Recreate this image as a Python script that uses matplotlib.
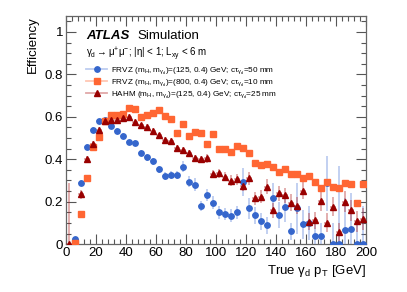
import numpy as np
import matplotlib
matplotlib.use("Agg")
import matplotlib.pyplot as plt
from matplotlib.ticker import MultipleLocator
from matplotlib.lines import Line2D

plt.rcParams['font.family'] = ['Liberation Sans', 'DejaVu Sans']
plt.rcParams['mathtext.fontset'] = 'custom'
plt.rcParams['mathtext.rm'] = 'Liberation Sans'
plt.rcParams['mathtext.it'] = 'Liberation Sans:italic'

# bin centres, 4 GeV bins
pt = np.arange(2, 200, 4)

# FRVZ (125, 0.4) GeV, ctau = 50 mm
eff_frvz125 = [np.nan, 0.022, 0.29, 0.46, 0.54, 0.58, 0.585, 0.557, 0.535, 0.51,
               0.48, 0.478, 0.43, 0.409, 0.39, 0.352, 0.322, 0.325, 0.325, 0.365,
               0.294, 0.28, 0.18, 0.231, 0.195, 0.15, 0.142, 0.134, 0.15, 0.294,
               0.168, 0.137, 0.108, 0.09, 0.216, 0.137, 0.173, 0.061, 0.168, 0.093,
               0.1, 0.038, 0.038, 0.286, 0.0, 0.0, 0.066, 0.071, 0.0, 0.0]
err_frvz125 = [0, 0.01, 0.012, 0.012, 0.012, 0.012, 0.012, 0.012, 0.012, 0.012,
               0.012, 0.012, 0.015, 0.015, 0.015, 0.018, 0.02, 0.02, 0.02, 0.025,
               0.025, 0.03, 0.025, 0.03, 0.03, 0.03, 0.03, 0.03, 0.03, 0.065,
               0.05, 0.04, 0.04, 0.04, 0.07, 0.06, 0.07, 0.04, 0.12, 0.07,
               0.08, 0.06, 0.06, 0.13, 0.1, 0.37, 0.15, 0.17, 0.1, 0.18]

# FRVZ (800, 0.4) GeV, ctau = 10 mm
eff_frvz800 = [np.nan, 0.003, 0.14, 0.31, 0.46, 0.506, 0.58, 0.608, 0.608, 0.613,
               0.64, 0.637, 0.60, 0.608, 0.616, 0.632, 0.605, 0.588, 0.522, 0.565,
               0.51, 0.53, 0.522, 0.47, 0.517, 0.448, 0.448, 0.435, 0.462, 0.451,
               0.43, 0.38, 0.373, 0.376, 0.365, 0.338, 0.352, 0.33, 0.33, 0.313,
               0.322, 0.291, 0.266, 0.291, 0.267, 0.263, 0.286, 0.283, 0.195, 0.283]
err_frvz800 = [0, 0.005, 0.01, 0.01, 0.01, 0.01, 0.01, 0.01, 0.01, 0.01,
               0.01, 0.01, 0.01, 0.01, 0.01, 0.01, 0.01, 0.01, 0.01, 0.01,
               0.012, 0.012, 0.012, 0.012, 0.012, 0.012, 0.012, 0.012, 0.012, 0.012,
               0.012, 0.012, 0.012, 0.012, 0.012, 0.012, 0.012, 0.014, 0.014, 0.014,
               0.014, 0.015, 0.015, 0.015, 0.015, 0.015, 0.015, 0.015, 0.015, 0.015]

# HAHM (125, 0.4) GeV, ctau = 25 mm
eff_hahm = [0.0, np.nan, 0.235, 0.40, 0.47, 0.54, 0.58, 0.585, 0.585, 0.593,
            0.60, 0.577, 0.561, 0.553, 0.533, 0.514, 0.49, 0.487, 0.451, 0.443,
            0.43, 0.404, 0.40, 0.404, 0.33, 0.333, 0.318, 0.299, 0.305, 0.275,
            0.31, 0.216, 0.223, 0.27, 0.16, 0.239, 0.231, 0.195, 0.181, 0.251,
            0.105, 0.113, 0.203, 0.1, 0.176, 0.055, 0.2, 0.16, 0.108, 0.118]
err_hahm = [0.29, 0, 0.02, 0.015, 0.015, 0.012, 0.012, 0.012, 0.012, 0.012,
            0.012, 0.012, 0.012, 0.012, 0.012, 0.012, 0.015, 0.015, 0.015, 0.015,
            0.015, 0.015, 0.015, 0.02, 0.02, 0.02, 0.02, 0.025, 0.025, 0.025,
            0.03, 0.03, 0.03, 0.035, 0.035, 0.035, 0.035, 0.04, 0.04, 0.04,
            0.04, 0.04, 0.045, 0.045, 0.045, 0.045, 0.05, 0.05, 0.05, 0.05]

labels = [r"FRVZ (m$_{\mathregular{H}}$, m$_{\mathregular{\gamma_d}}$)=(125, 0.4) GeV; c$\mathregular{\tau_{\gamma_d}}$=50 mm",
          r"FRVZ (m$_{\mathregular{H}}$, m$_{\mathregular{\gamma_d}}$)=(800, 0.4) GeV; c$\mathregular{\tau_{\gamma_d}}$=10 mm",
          r"HAHM (m$_{\mathregular{H}}$, m$_{\mathregular{\gamma_d}}$)=(125, 0.4) GeV; c$\mathregular{\tau_{\gamma_d}}$=25 mm"]

fig = plt.figure(figsize=(4.07, 2.92), dpi=100)
ax = fig.add_axes([0.162, 0.164, 0.737, 0.781])

styles = [
    (eff_frvz125, err_frvz125, 'o', '#3566cc', (0.35, 0.5, 0.85, 0.4), 3.9),
    (eff_frvz800, err_frvz800, 's', '#ff6633', (1.0, 0.45, 0.25, 0.4), 3.9),
    (eff_hahm, err_hahm, '^', '#990000', (0.7, 0.15, 0.15, 0.4), 4.2),
]
handles = []
for y, e, m, c, ec, ms in styles:
    ax.errorbar(pt, y, yerr=e, xerr=2, fmt=m, color=c, ecolor=ec, ms=ms,
                mec=c, elinewidth=1.3, capsize=0, zorder=3)
    handles.append(Line2D([], [], color=ec, lw=1.3, marker=m, ms=ms, mfc=c, mec=c))

ax.set_xlim(0, 200)
ax.set_ylim(0, 1.075)
ax.xaxis.set_major_locator(MultipleLocator(20))
ax.xaxis.set_minor_locator(MultipleLocator(4))
ax.yaxis.set_minor_locator(MultipleLocator(0.05))
ax.set_yticks([0, 0.2, 0.4, 0.6, 0.8, 1.0])
ax.set_yticklabels(['0', '0.2', '0.4', '0.6', '0.8', '1'])
ax.tick_params(which='both', direction='in', top=True, right=True, labelsize=9.5, color='#555555')
ax.tick_params(which='major', length=7, width=0.8)
ax.tick_params(which='minor', length=3.5, width=0.8)
ax.tick_params(axis='x', pad=2)
ax.tick_params(axis='y', pad=2)
for s in ax.spines.values():
    s.set_color('#666666')
    s.set_linewidth(0.9)

ax.set_xlabel(r"True $\mathregular{\gamma_d}$ $\mathregular{p_T}$ [GeV]", fontsize=9.5, loc='right', labelpad=3)
ax.set_ylabel("Efficiency", fontsize=9.5, loc='top', labelpad=4)

ax.text(0.067, 0.912, "ATLAS", transform=ax.transAxes, fontsize=9.5,
        fontweight='bold', fontstyle='italic', va='center')
ax.text(0.237, 0.912, "Simulation", transform=ax.transAxes, fontsize=9.5, va='center')
ax.text(0.067, 0.833,
        r"$\mathregular{\gamma_d}\rightarrow\mathregular{\mu^{+}\mu^{-}}$; |$\mathregular{\eta}$| < 1; L$_{\mathregular{xy}}$ < 6 m",
        transform=ax.transAxes, fontsize=7, va='center')

ax.legend(handles, labels, loc='upper left', bbox_to_anchor=(0.05, 0.805), frameon=False,
          fontsize=5.9, handlelength=2.6, handletextpad=0.5, labelspacing=0.12,
          borderpad=0.1)

fig.savefig("out.png", dpi=100)
